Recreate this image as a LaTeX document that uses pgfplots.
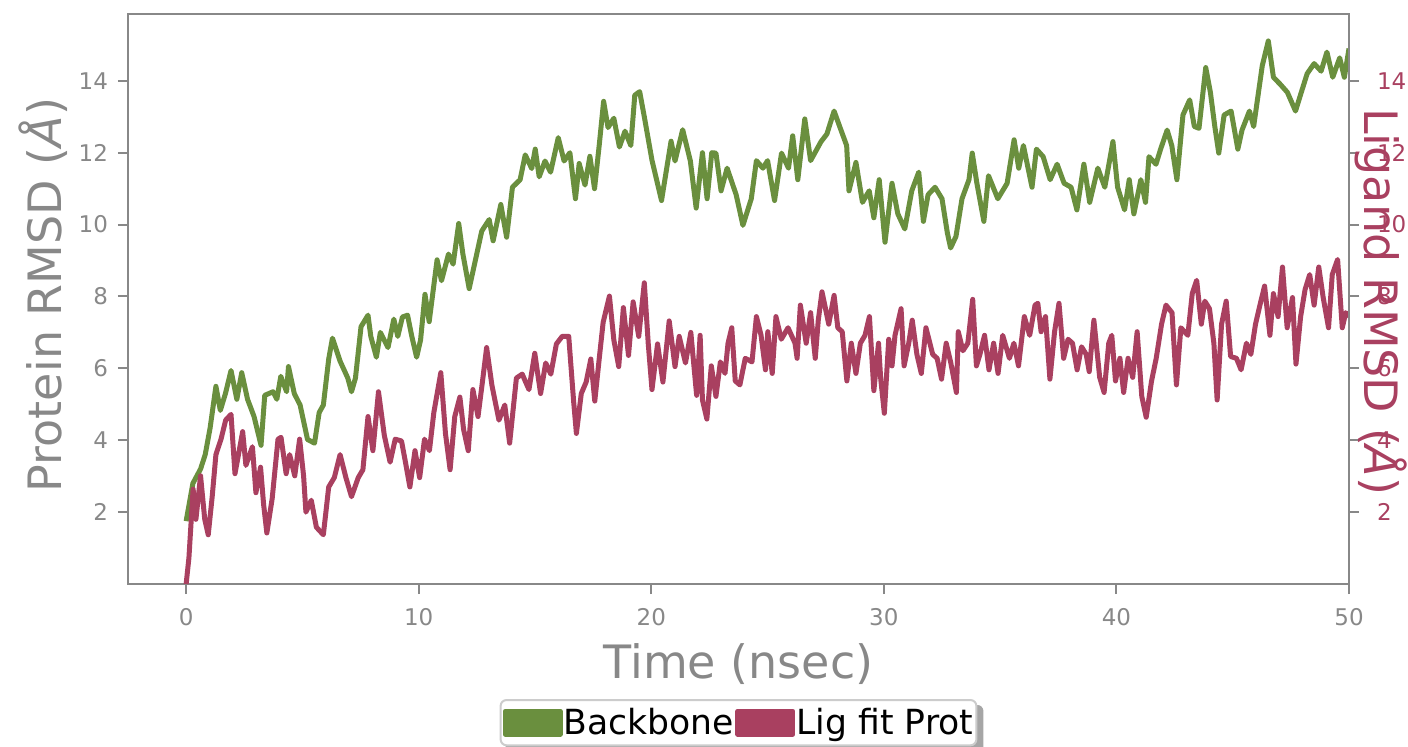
\documentclass[border=0pt]{standalone}
\usepackage{pgfplots}
\pgfplotsset{compat=1.18}
\usepackage{fontspec}
\setmainfont{DejaVu Sans}
\pgfdeclarelayer{background}
\pgfsetlayers{background,main}
\definecolor{bbgreen}{HTML}{6A8F3E}
\definecolor{ligred}{HTML}{A94060}
\definecolor{axgrey}{HTML}{888888}

\pgfplotstableread{
t v
0 1.75
0.29 2.8
0.62 3.2
0.82 3.6
1.03 4.34
1.28 5.5
1.47 4.83
1.69 5.3
1.93 5.94
2.18 5.14
2.39 5.88
2.64 5.14
2.92 4.66
3.22 3.86
3.38 5.25
3.74 5.35
3.9 5.14
4.07 5.78
4.32 5.35
4.40 6.05
4.65 5.3
4.9 4.98
5.22 4.02
5.52 3.92
5.72 4.77
5.9 4.98
6.13 6.26
6.29 6.84
6.62 6.2
6.95 5.73
7.11 5.35
7.28 5.73
7.52 7.16
7.82 7.48
7.94 6.89
8.18 6.31
8.35 7.0
8.68 6.58
8.93 7.37
9.1 6.89
9.3 7.43
9.52 7.48
9.7 6.9
9.91 6.31
10.08 6.79
10.27 8.06
10.45 7.3
10.79 9.02
10.98 8.44
11.28 9.18
11.48 8.9
11.72 10.03
11.9 9.18
12.17 8.22
12.4 8.9
12.71 9.82
13.03 10.14
13.2 9.55
13.53 10.56
13.78 9.65
14.03 11.04
14.36 11.25
14.58 11.94
14.86 11.56
15.01 12.1
15.18 11.33
15.43 11.77
15.67 11.46
16.0 12.42
16.25 11.77
16.5 12.0
16.74 10.72
16.9 11.7
17.15 11.1
17.36 11.9
17.56 11.0
17.76 12.2
17.95 13.43
18.14 12.7
18.39 12.96
18.63 12.16
18.87 12.6
19.12 12.2
19.29 13.6
19.5 13.7
19.7 13.0
20.03 11.79
20.44 10.67
20.85 12.32
21.02 11.77
21.35 12.64
21.68 11.77
21.93 10.46
22.2 12.0
22.4 10.72
22.6 12.0
22.78 11.99
23.0 10.94
23.26 11.57
23.65 10.83
23.94 9.98
24.3 10.72
24.52 11.78
24.8 11.57
25.0 11.78
25.3 10.67
25.6 11.99
25.9 11.57
26.08 12.47
26.3 11.25
26.6 12.94
26.85 11.78
27.3 12.31
27.55 12.52
27.86 13.16
28.1 12.73
28.4 12.2
28.5 10.94
28.8 11.73
29.08 10.62
29.37 10.94
29.57 10.19
29.8 11.25
30.05 9.51
30.35 11.15
30.6 10.3
30.9 9.88
31.2 10.94
31.5 11.46
31.7 10.09
31.9 10.83
32.2 11.04
32.5 10.72
32.73 9.77
32.87 9.35
33.1 9.67
33.36 10.72
33.66 11.25
33.8 11.99
34.0 11.15
34.3 10.09
34.5 11.36
34.9 10.72
35.3 11.15
35.6 12.36
35.8 11.57
36.0 12.2
36.37 11.04
36.56 12.1
36.85 11.89
37.15 11.25
37.45 11.68
37.75 11.15
38.05 11.04
38.3 10.41
38.6 11.68
38.85 10.62
39.2 11.57
39.5 11.04
39.85 12.31
40.05 11.04
40.35 10.41
40.55 11.25
40.75 10.3
41.05 11.25
41.25 10.62
41.4 11.89
41.7 11.68
41.9 12.1
42.18 12.63
42.38 12.2
42.6 11.25
42.86 13.05
43.15 13.47
43.35 12.73
43.55 12.68
43.84 14.37
44.04 13.68
44.23 12.73
44.4 11.99
44.63 13.05
44.93 13.16
45.22 12.1
45.4 12.63
45.72 13.16
45.9 12.73
46.27 14.42
46.53 15.11
46.75 14.1
47.05 13.9
47.35 13.68
47.7 13.16
47.9 13.58
48.2 14.2
48.5 14.48
48.8 14.27
49.05 14.8
49.3 14.1
49.6 14.64
49.8 14.1
50.0 14.9
}\backbone

\pgfplotstableread{
t v
0 0
0.12 0.73
0.3 2.64
0.42 1.8
0.62 3.01
0.8 1.8
0.95 1.37
1.12 2.43
1.28 3.6
1.5 4.03
1.7 4.56
1.93 4.72
2.1 3.07
2.25 3.6
2.43 4.24
2.57 3.3
2.85 3.82
3.0 2.54
3.2 3.25
3.33 2.22
3.47 1.42
3.7 2.38
3.95 4.03
4.08 4.08
4.3 3.07
4.45 3.6
4.67 3.01
4.88 4.03
5.05 3.01
5.15 2.0
5.38 2.33
5.6 1.58
5.9 1.37
6.13 2.7
6.37 2.96
6.62 3.6
6.87 2.96
7.11 2.43
7.4 2.96
7.6 3.18
7.82 4.66
8.03 3.71
8.27 5.35
8.52 4.14
8.77 3.39
8.99 4.03
9.26 3.98
9.43 3.39
9.62 2.7
9.84 3.71
10.04 2.96
10.25 4.03
10.46 3.71
10.65 4.77
10.95 5.88
11.15 4.19
11.35 3.18
11.55 4.66
11.77 5.2
11.93 4.3
12.13 3.71
12.33 5.41
12.55 4.66
12.76 5.73
12.92 6.58
13.15 5.52
13.45 4.56
13.7 4.98
13.91 3.92
14.2 5.73
14.45 5.84
14.74 5.41
14.99 6.42
15.24 5.3
15.46 6.15
15.68 5.84
15.92 6.68
16.17 6.89
16.45 6.89
16.66 5.09
16.78 4.19
16.99 5.3
17.2 5.62
17.4 6.26
17.57 5.09
17.76 6.26
17.93 7.28
18.2 8.01
18.39 6.79
18.6 6.05
18.8 7.69
19.02 6.36
19.22 7.85
19.46 6.89
19.7 8.38
19.87 6.68
20.03 5.41
20.27 6.68
20.5 5.62
20.77 7.32
21.02 6.05
21.2 6.89
21.47 6.15
21.7 7.0
21.95 5.25
22.10 6.92
22.20 5.12
22.39 4.59
22.58 6.07
22.78 5.22
22.97 6.18
23.17 5.86
23.30 6.70
23.46 7.13
23.61 5.65
23.81 5.54
24.04 6.28
24.33 6.18
24.52 7.44
24.72 6.92
24.91 5.96
25.01 7.02
25.20 5.86
25.36 7.44
25.59 6.81
25.88 7.13
26.18 6.70
26.27 6.28
26.41 7.76
26.66 6.70
26.85 7.55
27.05 6.28
27.18 7.34
27.34 8.13
27.63 7.23
27.86 8.03
28.02 7.13
28.21 7.02
28.41 5.65
28.60 6.70
28.80 5.86
28.99 6.70
29.19 6.92
29.38 7.44
29.57 5.38
29.77 6.70
29.86 5.75
30.02 4.75
30.21 6.81
30.35 6.07
30.48 6.92
30.74 7.66
30.87 6.07
31.07 6.70
31.22 7.34
31.42 6.39
31.61 5.86
31.81 7.13
32.10 6.39
32.29 6.28
32.48 5.70
32.68 6.70
32.87 6.18
33.12 5.33
33.20 7.02
33.40 6.49
33.61 6.70
33.82 7.92
33.98 6.07
34.13 6.39
34.33 6.92
34.52 5.96
34.72 6.70
34.91 5.86
35.11 6.92
35.40 6.28
35.59 6.70
35.79 6.07
36.04 7.44
36.27 6.92
36.50 7.76
36.62 7.81
36.76 7.02
36.95 7.44
37.14 5.70
37.34 7.02
37.53 7.81
37.73 6.28
37.92 6.81
38.11 6.70
38.31 5.96
38.50 6.60
38.70 6.39
38.83 5.91
39.03 7.34
39.28 5.75
39.47 5.33
39.67 6.70
39.80 6.92
39.96 5.65
40.15 6.28
40.31 5.33
40.50 6.28
40.70 5.75
40.89 7.02
41.09 5.22
41.28 4.64
41.51 5.65
41.71 6.28
41.94 7.23
42.13 7.76
42.39 7.55
42.58 5.54
42.77 7.13
43.07 6.92
43.26 8.08
43.45 8.45
43.65 7.23
43.80 7.87
44.00 7.66
44.19 6.70
44.33 5.12
44.52 7.23
44.72 7.87
44.91 6.33
45.16 6.28
45.36 5.96
45.59 6.70
45.78 6.39
45.98 7.23
46.17 7.76
46.37 8.29
46.60 6.92
46.75 8.08
46.95 7.44
47.14 8.82
47.34 7.13
47.57 7.97
47.72 6.12
47.92 7.44
48.11 8.19
48.31 8.61
48.50 7.76
48.70 8.82
48.89 7.97
49.12 7.13
49.28 8.61
49.51 9.03
49.71 7.13
49.86 7.55
50.0 7.44
}\ligprot

\begin{document}
\begin{tikzpicture}
\begin{axis}[
	name=main,
	scale only axis,
	width=610.5pt, height=285pt,
	xmin=-2.5, xmax=50,
	ymin=0, ymax=15.86,
	xtick={0,10,20,30,40,50},
	ytick={2,4,6,8,10,12,14},
	xtick pos=lower, ytick pos=left,
	tick align=outside,
	major tick length=5pt,
	tick style={axgrey, line width=1pt},
	axis line style={axgrey, line width=1.3pt},
	/pgf/number format/assume math mode=true,
	ticklabel style={font=\fontsize{11.5}{13}\selectfont, text=axgrey},
	xticklabel style={yshift=-3.5pt},
	yticklabel style={xshift=-1.5pt},
	xlabel={Time (nsec)},
	ylabel={Protein RMSD (\textit{Å})},
	every axis x label/.style={at={(axis description cs:0.5,0)}, anchor=base, yshift=-47pt,
		font=\fontsize{23}{27}\selectfont, text=axgrey},
	every axis y label/.style={at={(axis description cs:-0.0696,0.507)}, rotate=90, anchor=center,
		font=\fontsize{23}{27}\selectfont, text=axgrey},
	legend columns=2,
	legend style={name=leg, at={(axis description cs:0.5,0)}, anchor=north, yshift=-57.5pt,
		draw=black!20, line width=1pt, rounded corners=3pt, fill=white,
		font=\fontsize{17.3}{20}\selectfont, inner xsep=1pt, inner ysep=2pt,
		nodes={inner xsep=0.6pt},
		/tikz/every even column/.append style={column sep=0pt}},
	legend image code/.code={\fill[sharp corners] (0pt,-5.75pt) rectangle (27.5pt,5.75pt);},
	legend cell align=left,
]
\addplot[bbgreen, line width=2.5pt, line join=round] table[x=t, y=v] {\backbone};
\addlegendentry{Backbone}
\addplot[ligred, line width=2.5pt, line join=round] table[x=t, y=v] {\ligprot};
\addlegendentry{Lig fit Prot}
\end{axis}
\begin{axis}[
	scale only axis,
	width=610.5pt, height=285pt,
	xmin=-2.5, xmax=50,
	ymin=0, ymax=15.86,
	axis x line=none,
	axis y line*=right,
	ytick={2,4,6,8,10,12,14},
	tick align=outside,
	major tick length=5pt,
	tick style={axgrey, line width=1pt},
	axis line style={axgrey, line width=1.3pt},
	/pgf/number format/assume math mode=true,
	ticklabel style={font=\fontsize{11.5}{13}\selectfont, text=ligred},
	yticklabel style={xshift=5.5pt},
	ylabel={Ligand RMSD (\textit{Å})},
	every axis y label/.style={at={(axis description cs:1.026,0.495)}, rotate=-90, anchor=center,
		font=\fontsize{23}{27}\selectfont, text=ligred},
]
\end{axis}
\begin{pgfonlayer}{background}
\fill[black!35, rounded corners=3pt] ([xshift=3pt,yshift=-3pt]leg.south west) rectangle ([xshift=3pt,yshift=-3pt]leg.north east);
\end{pgfonlayer}
\pgfresetboundingbox
\path[use as bounding box] (main.south west) ++(-64pt,-81pt) rectangle ++(704pt,373pt);
\end{tikzpicture}
\end{document}
